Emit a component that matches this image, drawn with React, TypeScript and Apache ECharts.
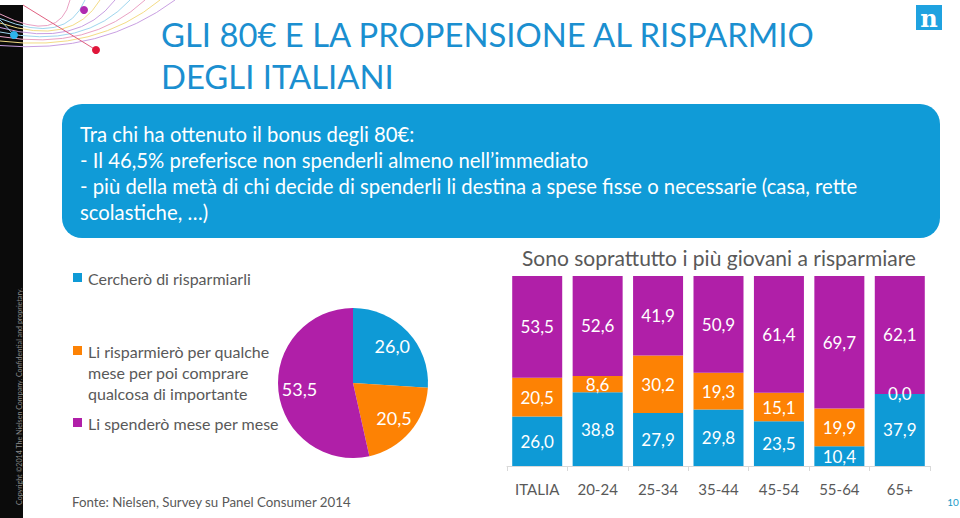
import React, { useEffect, useRef } from "react";
import * as echarts from "echarts";

const categories = ["ITALIA", "20-24", "25-34", "35-44", "45-54", "55-64", "65+"];
const seriesNames = [
  "Cercherò di risparmiarli",
  "Li risparmierò per qualche\nmese per poi comprare\nqualcosa di importante",
  "Li spenderò mese per mese",
];
const saveValues = [26.0, 38.8, 27.9, 29.8, 23.5, 10.4, 37.9];
const saveLaterValues = [20.5, 8.6, 30.2, 19.3, 15.1, 19.9, 0.0];
const spendValues = [53.5, 52.6, 41.9, 50.9, 61.4, 69.7, 62.1];
const pieValues = [26.0, 20.5, 53.5];

const COLORS = ["#0e9ad6", "#fd8204", "#b01fa8"];
const FONT = "Lato, 'Open Sans', sans-serif";
const fmt = (v: number) => v.toFixed(1).replace(".", ",");
const PIE_C = [353, 383];

export default function App() {
  const ref = useRef<HTMLDivElement>(null);
  useEffect(() => {
    document.body.style.margin = "0";
    const chart = echarts.init(ref.current!, null, { renderer: "svg" });

    const deco: any[] = [];
    deco.push({ type: "rect", shape: { x: 0, y: 5, width: 23, height: 513 }, style: { fill: "#0b0b0b" } });
    const curveColors = ["#eaa2c4", "#9fd6ee", "#f3dc86", "#c9a0e2", "#9fd6ee", "#eaa2c4", "#f3dc86", "#c9a0e2"];
    curveColors.forEach((c, i) => {
      deco.push({
        type: "bezierCurve",
        shape: { x1: 0, y1: 14 + i * 4.5, cpx1: 60 + i * 6, cpy1: 44 + i * 1.5, x2: 70 + i * 15, y2: 0 },
        style: { stroke: c, lineWidth: 1, fill: null },
      });
    });
    deco.push({ type: "line", shape: { x1: 0, y1: 20, x2: 14, y2: 35 }, style: { stroke: "#9fd6ee", lineWidth: 1 } });
    deco.push({ type: "line", shape: { x1: 23, y1: 5, x2: 96, y2: 50 }, style: { stroke: "#e06080", lineWidth: 1 } });
    deco.push({ type: "circle", shape: { cx: 14, cy: 35, r: 4 }, style: { fill: "#2eb4ec" } });
    deco.push({ type: "circle", shape: { cx: 84, cy: 10, r: 4 }, style: { fill: "#b02ab0" } });
    deco.push({ type: "circle", shape: { cx: 96, cy: 50, r: 4 }, style: { fill: "#e0163a" } });
    deco.push({
      type: "text", x: 16, y: 505, rotation: Math.PI / 2,
      style: { text: "Copyright ©2014 The Nielsen Company. Confidential and proprietary.", fill: "#8a8a8a", fontSize: 7.1, fontFamily: FONT },
    });
    // title
    deco.push({
      type: "text", x: 161, y: 13,
      style: { text: "GLI 80€ E LA PROPENSIONE AL RISPARMIO\nDEGLI ITALIANI", fill: "#1b8fd0", fontSize: 32.8, lineHeight: 42, fontFamily: FONT },
    });
    // logo
    deco.push({ type: "rect", shape: { x: 916, y: 5, width: 26, height: 25 }, style: { fill: "#1fa2e0" } });
    deco.push({
      type: "text", x: 929, y: 18,
      style: { text: "n", fill: "#ffffff", fontSize: 24, fontWeight: "bold", fontFamily: "'DejaVu Serif', serif", align: "center", verticalAlign: "middle" },
    });
    // blue box
    deco.push({ type: "rect", shape: { x: 62, y: 104, width: 878, height: 134, r: 20 }, style: { fill: "#109bd7" } });
    deco.push({
      type: "text", x: 80, y: 121,
      style: {
        text: "Tra chi ha ottenuto il bonus degli 80€:\n- Il 46,5% preferisce non spenderli almeno nell’immediato\n- più della metà di chi decide di spenderli li destina a spese fisse o necessarie (casa, rette\nscolastiche, …)",
        fill: "#ffffff", fontSize: 20.3, lineHeight: 26, fontFamily: FONT,
      },
    });
    // legend
    const legendY = [278, 351, 423];
    seriesNames.forEach((n, i) => {
      deco.push({ type: "rect", shape: { x: 73, y: legendY[i] - 5, width: 9, height: 9 }, style: { fill: COLORS[i] } });
      deco.push({
        type: "text", x: 88, y: legendY[i] - 10.5,
        style: { text: n, fill: "#595959", fontSize: 16, lineHeight: 21, fontFamily: FONT },
      });
    });
    deco.push({
      type: "text", x: 522, y: 257,
      style: { text: "Sono soprattutto i più giovani a risparmiare", fill: "#595959", fontSize: 21, fontFamily: FONT, verticalAlign: "middle" },
    });
    deco.push({
      type: "text", x: 72, y: 502,
      style: { text: "Fonte: Nielsen, Survey su Panel Consumer 2014", fill: "#595959", fontSize: 13.3, fontFamily: FONT, verticalAlign: "middle" },
    });
    deco.push({
      type: "text", x: 953, y: 502,
      style: { text: "10", fill: "#1a9ac8", fontSize: 10, fontFamily: FONT, align: "center", verticalAlign: "middle" },
    });

    const barLabel = {
      show: true, position: "inside", color: "#ffffff", fontSize: 17, fontFamily: FONT,
      formatter: (p: any) => fmt(p.value),
    };
    const barData = [saveValues, saveLaterValues, spendValues];

    chart.setOption({
      animation: false,
      textStyle: { fontFamily: FONT },
      grid: { left: 507, right: 30, top: 276, bottom: 52 },
      xAxis: {
        type: "category", data: categories,
        axisLine: { lineStyle: { color: "#d9d9d9" } },
        axisTick: { show: true, length: 5, lineStyle: { color: "#d9d9d9" } },
        axisLabel: { color: "#595959", fontSize: 15, margin: 15, fontFamily: FONT },
      },
      yAxis: { type: "value", min: 0, max: 100, show: false, splitLine: { show: false } },
      series: [
        ...barData.map((d, i) => ({
          type: "bar", name: seriesNames[i], stack: "a", data: d, barWidth: 50,
          itemStyle: { color: COLORS[i] }, label: barLabel,
        })),
        {
          type: "pie", center: PIE_C, radius: 75, startAngle: 90, clockwise: true,
          data: pieValues.map((v, i) => ({ value: v, name: seriesNames[i], itemStyle: { color: COLORS[i] } })),
          label: {
            show: true, position: "inside", color: "#ffffff", fontSize: 18, fontFamily: FONT,
            formatter: (p: any) => fmt(p.value),
          },
          labelLine: { show: false },
          labelLayout: (params: any) => {
            const r = params.labelRect;
            const cx = r.x + r.width / 2;
            const cy = r.y + r.height / 2;
            return { x: PIE_C[0] + (cx - PIE_C[0]) * 1.33, y: PIE_C[1] + (cy - PIE_C[1]) * 1.33 };
          },
        },
      ],
      graphic: { elements: deco },
    });
    return () => chart.dispose();
  }, []);
  return <div ref={ref} style={{ width: 960, height: 518, position: "absolute", left: 0, top: 0, background: "#fff" }} />;
}
